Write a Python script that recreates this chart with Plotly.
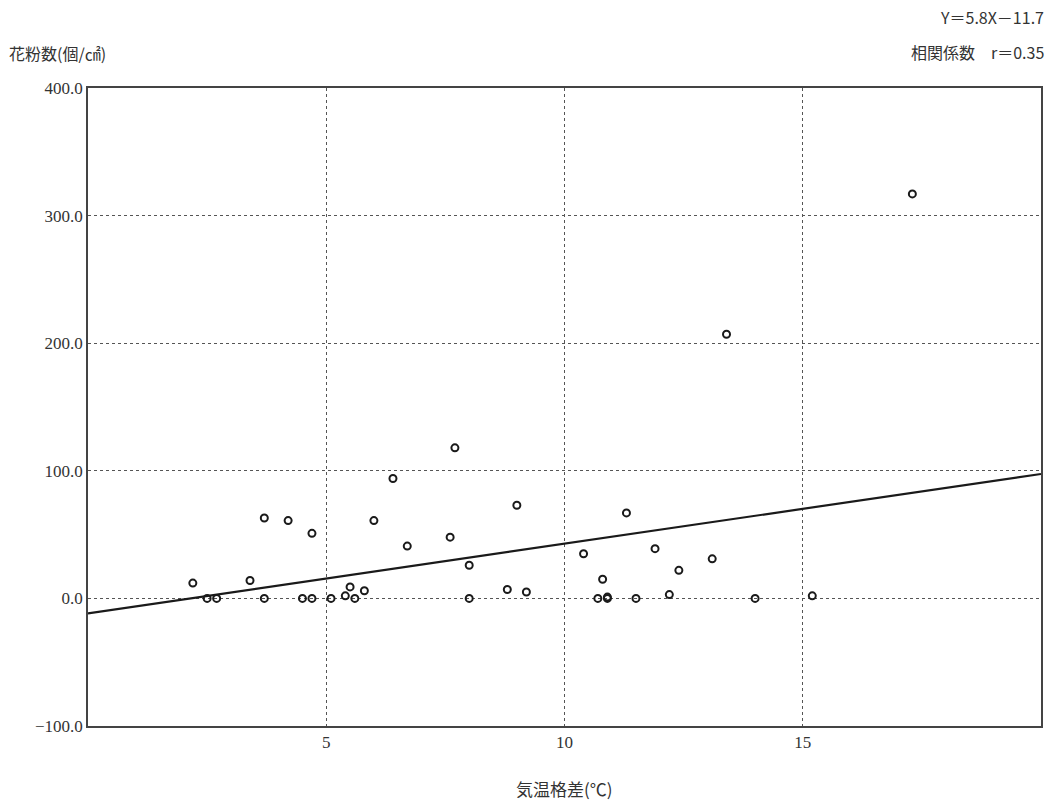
import plotly.graph_objects as go

# Scatter data: temperature difference (°C) vs pollen count (grains/cm2)
temp_diff = [2.2, 2.5, 2.7, 3.4, 3.7, 3.7, 4.2, 4.5, 4.7, 4.7,
             5.1, 5.4, 5.5, 5.6, 5.8, 6.0, 6.4, 6.7, 7.6, 7.7,
             8.0, 8.0, 8.8, 9.0, 9.2, 10.4, 10.7, 10.8, 10.9, 10.9,
             11.3, 11.5, 11.9, 12.2, 12.4, 13.1, 13.4, 14.0, 15.2, 17.3]
pollen = [12, 0, 0, 14, 63, 0, 61, 0, 51, 0,
          0, 2, 9, 0, 6, 61, 94, 41, 48, 118,
          26, 0, 7, 73, 5, 35, 0, 15, 1, 0,
          67, 0, 39, 3, 22, 31, 207, 0, 2, 317]

# Regression line end points as drawn
fit_x = [0, 20]
fit_y = [-11.7, 97.5]

y_ticks = [-100, 0, 100, 200, 300, 400]
y_tick_text = ["−100.0", "0.0", "100.0", "200.0", "300.0", "400.0"]
x_ticks = [5, 10, 15]
x_tick_text = ["5", "10", "15"]

equation_text = "Y＝5.8X－11.7"
corr_text = "相関係数　r＝0.35"
y_title = "花粉数(個/㎠)"
x_title = "気温格差(℃)"

JP = "Noto Sans CJK JP"
NUM = "Liberation Serif"

fig = go.Figure()
fig.add_trace(go.Scatter(
    x=fit_x, y=fit_y, mode="lines",
    line=dict(color="#1a1a1a", width=2.2),
    hoverinfo="skip", showlegend=False))
fig.add_trace(go.Scatter(
    x=temp_diff, y=pollen, mode="markers",
    marker=dict(symbol="circle-open", size=7, color="#1a1a1a",
                line=dict(width=2, color="#1a1a1a")),
    showlegend=False))

fig.update_layout(
    width=1052, height=807,
    margin=dict(l=88, r=9, t=88, b=81),
    paper_bgcolor="white", plot_bgcolor="white",
    font=dict(family=NUM, size=16, color="#333"),
    xaxis=dict(range=[0, 20], tickvals=x_ticks, ticktext=x_tick_text,
               showgrid=True, gridcolor="#555", griddash="dot", gridwidth=1,
               showline=True, linecolor="#444", linewidth=1.5, mirror=True,
               ticks="", zeroline=False, tickfont=dict(family=NUM, size=17)),
    yaxis=dict(range=[-100, 400], tickvals=y_ticks, ticktext=y_tick_text,
               showgrid=True, gridcolor="#555", griddash="dot", gridwidth=1,
               showline=True, linecolor="#444", linewidth=1.5, mirror=True,
               ticks="", zeroline=False, tickfont=dict(family=NUM, size=17)),
    annotations=[
        dict(text=y_title, xref="paper", yref="paper", x=-0.085, y=1.055,
             xanchor="left", yanchor="middle", showarrow=False,
             font=dict(family=JP, size=16, color="#333")),
        dict(text=equation_text, xref="paper", yref="paper", x=1.005, y=1.112,
             xanchor="right", yanchor="middle", showarrow=False,
             font=dict(family=JP, size=16, color="#333")),
        dict(text=corr_text, xref="paper", yref="paper", x=1.005, y=1.057,
             xanchor="right", yanchor="middle", showarrow=False,
             font=dict(family=JP, size=16, color="#333")),
        dict(text=x_title, xref="paper", yref="paper", x=0.5, y=-0.098,
             xanchor="center", yanchor="middle", showarrow=False,
             font=dict(family=JP, size=17, color="#333")),
    ],
)

fig.write_html("out.html", config={"displayModeBar": False},
               post_script="document.body.style.margin='0';")
